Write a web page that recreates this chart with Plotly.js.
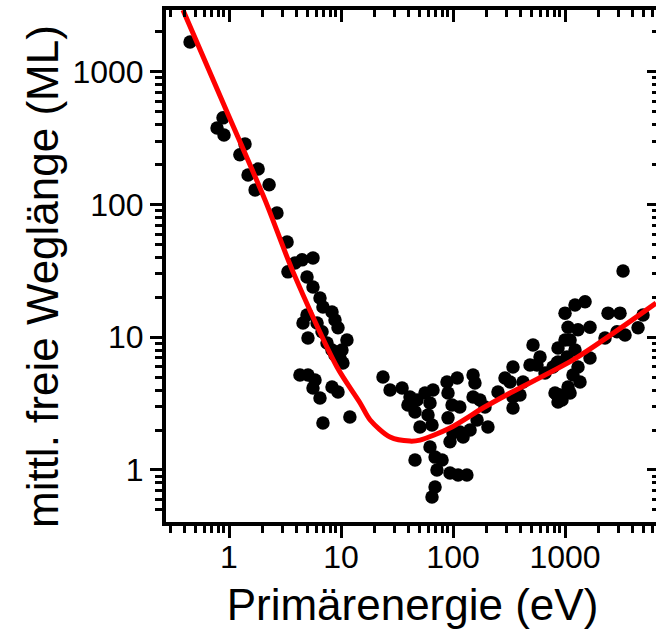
<!DOCTYPE html>
<html>
<head>
<meta charset="utf-8">
<script src="https://cdn.plot.ly/plotly-3.0.1.min.js"></script>
<style>
html, body { margin: 0; padding: 0; overflow: hidden; background: #fff; }
#chart { width: 680px; height: 639px; }
</style>
</head>
<body>
<div id="chart"></div>
<script>
// Measured data points: primary energy (eV) and mean free path (ML)
const energy = [
  0.449, 0.782, 0.884, 0.902, 1.25, 1.39, 1.48, 1.71, 1.82, 2.28,
  2.68, 3.30, 3.36, 3.88, 4.49, 5.62, 4.97, 5.62, 6.49, 6.90,
  8.31, 8.84, 9.40, 11.3, 10.2, 9.80, 10.4, 4.97, 4.58, 5.07,
  6.11, 6.77, 7.50, 8.31, 8.84, 4.30, 5.07, 5.86, 5.62, 6.49,
  8.31, 9.40, 6.90, 12.0,
  23.7, 27.4, 35.1, 41.3, 39.6, 47.7, 45.8, 50.7, 56.2, 66.3,
  62.3, 59.8, 64.9, 62.3, 69.1, 71.9, 45.8, 88.4, 109, 90.2,
  98.0, 115, 90.2, 100, 115, 94.0, 79.8, 94.0, 111, 133,
  69.1, 64.9, 151, 157, 164, 123, 142, 151, 174, 205,
  193, 252, 291, 343, 323, 343, 343, 396, 422, 518,
  487, 598, 562, 663, 866, 866, 1000, 1042, 849, 940,
  3296, 1510, 1228, 1000, 2421, 3097, 4970, 4487, 3434, 2912,
  2275, 1671, 1306, 1064, 1109, 849, 1228, 1671, 1306, 1178,
  1361, 1064, 1109, 902, 814, 866, 781
];
const mfp = [
  1680, 378, 450, 334, 237, 286, 167, 129, 185, 141,
  86.5, 52.3, 31.1, 36.3, 38.3, 39.6, 28.5, 23.9, 19.8, 16.9,
  15.5, 13.5, 11.8, 9.55, 8.02, 6.98, 6.40, 14.7, 12.8, 9.88,
  12.8, 11.0, 9.06, 8.02, 7.36, 5.20, 5.20, 4.77, 4.15, 3.49,
  4.22, 3.87, 2.26, 2.51,
  5.02, 4.01, 4.15, 3.55, 3.09, 3.37, 2.74, 2.11, 3.80, 4.01,
  3.20, 2.60, 2.18, 1.49, 1.25, 1.00, 1.19, 4.61, 4.94, 3.80,
  3.09, 2.98, 2.47, 1.90, 1.93, 1.63, 1.19, 0.95, 0.917, 0.917,
  0.744, 0.626, 5.20, 4.53, 2.38, 1.77, 2.00, 3.55, 3.37, 2.11,
  2.98, 3.87, 4.94, 5.97, 4.61, 3.55, 2.93, 3.67, 4.61, 8.75,
  6.18, 7.11, 6.18, 5.38, 8.30, 6.51, 9.55, 7.11, 3.67, 3.37,
  31.6, 18.5, 17.5, 15.2, 15.2, 15.2, 14.7, 11.8, 10.4, 11.0,
  9.88, 11.9, 11.4, 11.9, 9.55, 6.40, 8.02, 6.98, 5.97, 5.20,
  4.61, 4.22, 3.80, 3.67, 3.80, 3.25, 5.97
];

// Fitted "universal curve"
const curveE = [0.388, 0.96, 2.10, 3.73, 9.21, 14.8, 18.2, 27.4, 41.3, 50.7, 94.0, 185, 323, 1178, 6494];
const curveL = [2927, 499, 108, 31.1, 5.97, 3.20, 2.38, 1.77, 1.65, 1.68, 2.07, 2.93, 3.80, 6.75, 18.1];

// Axis tick labels
const xTickVals = [1, 10, 100, 1000];
const yTickVals = [1, 10, 100, 1000];
const xMinor = [0.3,0.4,0.5,0.6,0.7,0.8,0.9, 2,3,4,5,6,7,8,9, 20,30,40,50,60,70,80,90, 200,300,400,500,600,700,800,900, 2000,3000,4000,5000,6000,7000,8000,9000];
const yMinor = [0.5,0.6,0.7,0.8,0.9, 2,3,4,5,6,7,8,9, 20,30,40,50,60,70,80,90, 200,300,400,500,600,700,800,900, 2000,3000];

const xTitle = 'Primärenergie (eV)';
const yTitle = 'mittl. freie Weglänge (ML)';

const FONT = 'Liberation Sans, Arial, Helvetica, sans-serif';
const xRange = [-0.5625, 3.839];
const yRange = [-0.392, 3.466];

const traces = [
  {
    x: energy, y: mfp, type: 'scatter', mode: 'markers',
    marker: { color: '#000000', size: 13.5, line: { width: 0 } },
    showlegend: false, hoverinfo: 'x+y'
  },
  {
    x: curveE, y: curveL, type: 'scatter', mode: 'lines',
    line: { color: '#ff0000', width: 5, shape: 'spline', smoothing: 0.8 },
    showlegend: false
  },
  {
    x: [null], y: [null], xaxis: 'x2', yaxis: 'y2', type: 'scatter', mode: 'markers',
    marker: { opacity: 0 }, showlegend: false, hoverinfo: 'skip'
  }
];

const baseAxis = {
  type: 'log', showline: true, linewidth: 4, linecolor: '#000',
  showgrid: false, zeroline: false,
  tickmode: 'array', tickwidth: 3, tickcolor: '#000', ticklen: 12,
  tickfont: { family: FONT, size: 32, color: '#000' }
};

const layout = {
  width: 680, height: 639,
  margin: { l: 166, r: 21, t: 10, b: 117 },
  paper_bgcolor: '#ffffff', plot_bgcolor: '#ffffff',
  font: { family: FONT, color: '#000' },
  showlegend: false,
  xaxis: Object.assign({}, baseAxis, {
    range: xRange, ticks: 'outside', tickvals: xTickVals, ticktext: xTickVals.map(String),
    ticklabelstandoff: -8,
    minor: { tickmode: 'array', tickvals: xMinor, ticks: 'outside', ticklen: 7, tickwidth: 3, tickcolor: '#000', showgrid: false },
    title: { text: xTitle, font: { family: FONT, size: 44, color: '#000' }, standoff: 16 }
  }),
  yaxis: Object.assign({}, baseAxis, {
    range: yRange, ticks: 'outside', tickvals: yTickVals, ticktext: yTickVals.map(String),
    minor: { tickmode: 'array', tickvals: yMinor, ticks: 'outside', ticklen: 7, tickwidth: 3, tickcolor: '#000', showgrid: false }
  }),
  xaxis2: Object.assign({}, baseAxis, {
    range: xRange, overlaying: 'x', side: 'top', anchor: 'y', ticks: 'inside',
    tickvals: xTickVals, showticklabels: false,
    minor: { tickmode: 'array', tickvals: xMinor, ticks: 'inside', ticklen: 7, tickwidth: 3, tickcolor: '#000', showgrid: false }
  }),
  yaxis2: Object.assign({}, baseAxis, {
    range: yRange, overlaying: 'y', side: 'right', anchor: 'x', ticks: 'inside',
    tickvals: yTickVals, showticklabels: false,
    minor: { tickmode: 'array', tickvals: yMinor, ticks: 'inside', ticklen: 7, tickwidth: 3, tickcolor: '#000', showgrid: false }
  }),
  annotations: [{
    text: yTitle, textangle: -90, showarrow: false,
    xref: 'paper', yref: 'paper', x: -0.2515, y: 0.4785,
    xanchor: 'center', yanchor: 'middle',
    font: { family: FONT, size: 44, color: '#000' }
  }]
};

Plotly.newPlot('chart', traces, layout, { staticPlot: true, displayModeBar: false });
</script>
</body>
</html>
